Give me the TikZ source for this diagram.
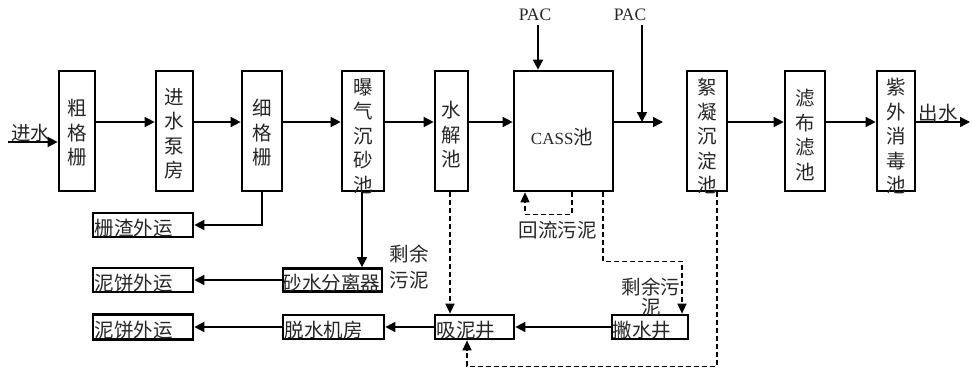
\documentclass[tikz,border=0pt]{standalone}
\usepackage{fontspec}
\setmainfont{Noto Sans CJK SC}
\newfontfamily\lat{Liberation Serif}
\usetikzlibrary{arrows.meta,calc}
\begin{document}
\begin{tikzpicture}[x=1pt,y=-1pt,
  box/.style={draw,line width=2.7pt,inner sep=0pt},
  vtext/.style={align=center,inner sep=0pt,text=black!85,font=\fontsize{19.5}{24.5}\selectfont},
  htext/.style={inner sep=0pt,text=black!85,font=\fontsize{19.5}{22}\selectfont},
  arr/.style={line width=1.5pt,-{Triangle[length=10pt,width=10pt]}},
  darr/.style={line width=1.5pt,dash pattern=on 5pt off 3pt,-{Triangle[length=10pt,width=9pt]}}]
\useasboundingbox (0,0) rectangle (972,372);
% top row boxes
\node[box,minimum width=36pt,minimum height=120pt] (b1) at (77,131) {};
\node[box,minimum width=37pt,minimum height=120pt] (b2) at (174.5,131) {};
\node[box,minimum width=40pt,minimum height=120pt] (b3) at (262,131) {};
\node[box,minimum width=42pt,minimum height=120pt] (b4) at (363,131) {};
\node[box,minimum width=33pt,minimum height=120pt] (b5) at (451.5,131) {};
\node[box,minimum width=99pt,minimum height=120pt] (b6) at (563.5,131) {};
\node[box,minimum width=40pt,minimum height=120pt] (b7) at (707,131) {};
\node[box,minimum width=40pt,minimum height=120pt] (b8) at (805,131) {};
\node[box,minimum width=38pt,minimum height=120pt] (b9) at (896,131) {};
\node[vtext] (t1) at (77,133) {粗\\格\\栅};
\node[vtext] (t2) at (174.5,134) {进\\水\\泵\\房};
\node[vtext] (t3) at (262,133) {细\\格\\栅};
\node[vtext] (t4) at (363,136) {曝\\气\\沉\\砂\\池};
\node[vtext] (t5) at (451.5,135) {水\\解\\池};
\node[htext] (t6) at (562,137) {{\lat\fontsize{17}{20}\selectfont CASS}池};
\node[vtext] (t7) at (707,136) {絮\\凝\\沉\\淀\\池};
\node[vtext] (t8) at (805,135) {滤\\布\\滤\\池};
\node[vtext] (t9) at (896,136) {紫\\外\\消\\毒\\池};
% bottom boxes
\node[box,minimum width=100pt,minimum height=24pt] (c1) at (143,225) {};
\node[box,minimum width=100pt,minimum height=24pt] (c2) at (143,280) {};
\node[box,minimum width=100pt,minimum height=25pt] (c3) at (143,327) {};
\node[box,minimum width=99pt,minimum height=23pt] (c4) at (332.5,280) {};
\node[box,minimum width=101pt,minimum height=24pt] (c5) at (333.5,327) {};
\node[box,minimum width=79pt,minimum height=24pt] (c6) at (474.5,327) {};
\node[box,minimum width=76pt,minimum height=24pt] (c7) at (650,327) {};
\node[htext,anchor=west] (s1) at ($(c1.west)+(3,3)$) {栅渣外运};
\node[htext,anchor=west] (s2) at ($(c2.west)+(3,3)$) {泥饼外运};
\node[htext,anchor=west] (s3) at ($(c3.west)+(3,3)$) {泥饼外运};
\node[htext,anchor=west] (s4) at ($(c4.west)+(1,3)$) {砂水分离器};
\node[htext,anchor=west] (s5) at ($(c5.west)+(3,3)$) {脱水机房};
\node[htext,anchor=west] (s6) at ($(c6.west)+(3,3)$) {吸泥井};
\node[htext,anchor=west] (s7) at ($(c7.west)+(2,3)$) {撇水井};
% labels
\node[htext] (l1) at (31,133) {进水};
\node[htext] (l2) at (938,113) {出水};
\node[inner sep=0pt,text=black!85,font=\lat\fontsize{17.5}{20}\selectfont] (p1) at (535,15) {PAC};
\node[inner sep=0pt,text=black!85,font=\lat\fontsize{17.5}{20}\selectfont] (p2) at (630,15) {PAC};
\node[htext,align=center,font=\fontsize{19.5}{26}\selectfont] (l3) at (409,267) {剩余\\污泥};
\node[htext] (l4) at (557.5,230) {回流污泥};
\node[htext,align=center,font=\fontsize{19.5}{20}\selectfont] (l5) at (651,297) {剩余污\\泥};
% free ends
\coordinate (in) at (8,142);
\coordinate (out) at (970,122);
\coordinate (cassout) at (663,122);
\coordinate (pac1top) at (538,25);
\coordinate (pac2top) at (642,25);
% main flow
\draw[arr] (in) -- ([yshift=-11pt]b1.west);
\draw[arr] ([yshift=9pt]b1.east) -- ([yshift=9pt]b2.west);
\draw[arr] ([yshift=9pt]b2.east) -- ([yshift=9pt]b3.west);
\draw[arr] ([yshift=9pt]b3.east) -- ([yshift=9pt]b4.west);
\draw[arr] ([yshift=9pt]b4.east) -- ([yshift=9pt]b5.west);
\draw[arr] ([yshift=9pt]b5.east) -- ([yshift=9pt]b6.west);
\draw[arr] ([yshift=9pt]b6.east) -- (cassout);
\draw[arr] (pac1top) -- (pac1top |- b6.north);
\draw[arr] (pac2top) -- (pac2top |- cassout);
\draw[arr] ([yshift=9pt]b7.east) -- ([yshift=9pt]b8.west);
\draw[arr] ([yshift=9pt]b8.east) -- ([yshift=9pt]b9.west);
\draw[arr] ([yshift=9pt]b9.east) -- (out);
% lower connections
\draw[arr] (b3.south) |- (c1.east);
\draw[arr] ([xshift=-1pt]b4.south) -- ([xshift=-1pt]b4.south |- c4.north);
\draw[arr] (c4.west) -- (c2.east);
\draw[arr] (c6.west) -- (c5.east);
\draw[arr] (c5.west) -- (c3.east);
\draw[arr] (c7.west) -- (c6.east);
\draw[darr] ([xshift=-1.5pt]b5.south) -- ([xshift=-1.5pt]b5.south |- c6.north);
\draw[darr] ($(b6.south)+(8.5,0)$) -- ++(0,22) -| ($(b6.south)+(-38.5,0)$);
\draw[darr] ($(b6.south)+(39.5,0)$) -- ++(0,69) -| ($(c7.north)+(32,0)$);
\draw[darr] ($(b7.south)+(10,0)$) -- ++(0,174) -| ($(c6.south)+(-7.5,0)$);
\end{tikzpicture}
\end{document}
